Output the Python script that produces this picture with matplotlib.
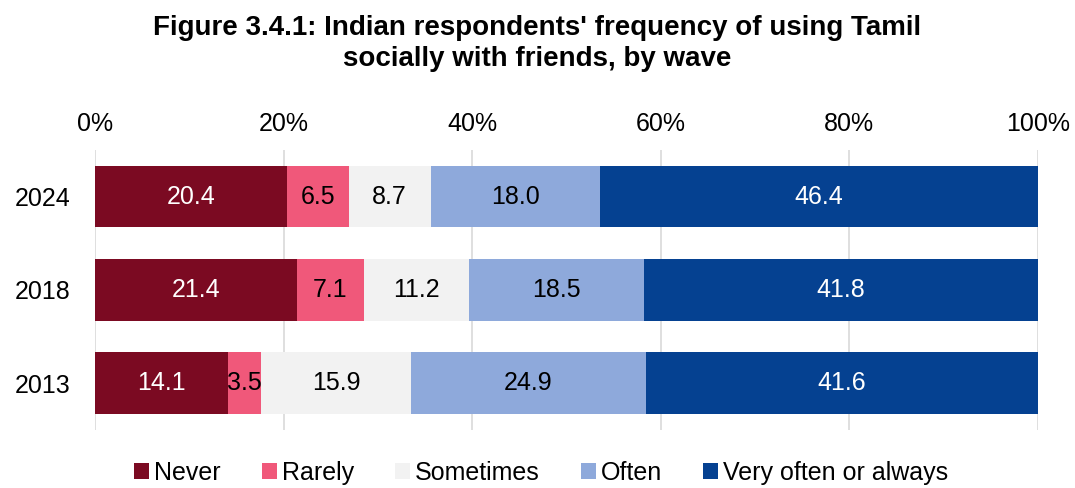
import matplotlib
matplotlib.use("Agg")
import matplotlib.pyplot as plt
import numpy as np

plt.rcParams['font.family'] = ['Liberation Sans', 'DejaVu Sans']

years = ["2024", "2018", "2013"]
categories = ["Never", "Rarely", "Sometimes", "Often", "Very often or always"]
never = [20.4, 21.4, 14.1]
rarely = [6.5, 7.1, 3.5]
sometimes = [8.7, 11.2, 15.9]
often = [18.0, 18.5, 24.9]
very_often = [46.4, 41.8, 41.6]
colors = ["#7B0A22", "#F0587A", "#F2F2F2", "#8EA9DB", "#054191"]
label_colors = ["white", "black", "black", "black", "white"]

series = [never, rarely, sometimes, often, very_often]

fig = plt.figure(figsize=(10.75, 4.88), dpi=100)
ax = fig.add_axes([0.0884, 0.119, 0.8772, 0.574])

y = np.arange(len(years))
left = np.zeros(len(years))
for vals, name, c, lc in zip(series, categories, colors, label_colors):
    vals = np.array(vals)
    ax.barh(y, vals, left=left, color=c, height=0.66, label=name, zorder=3)
    for yi, v, l in zip(y, vals, left):
        ax.text(l + v / 2, yi, f"{v:.1f}", ha="center", va="center",
                color=lc, fontsize=18, zorder=4)
    left += vals

ax.set_xlim(0, 100)
ax.set_ylim(2.5, -0.5)
ax.set_yticks(y)
ax.set_yticklabels(years, fontsize=18)
ax.set_xticks([0, 20, 40, 60, 80, 100])
ax.set_xticklabels([f"{t}%" for t in [0, 20, 40, 60, 80, 100]], fontsize=18)
ax.xaxis.tick_top()
ax.tick_params(axis="both", length=0, pad=10)
ax.tick_params(axis="y", pad=18)
ax.grid(axis="x", color="#D9D9D9", linewidth=1.2, zorder=0)
for s in ax.spines.values():
    s.set_visible(False)

fig.suptitle("Figure 3.4.1: Indian respondents' frequency of using Tamil\nsocially with friends, by wave",
             fontsize=20, fontweight="bold", y=0.97, x=0.5, linespacing=1.25)

ax.legend(loc="upper center", bbox_to_anchor=(0.473, -0.03), ncol=5, frameon=False,
          fontsize=18, handlelength=0.6, handleheight=0.6, handletextpad=0.2,
          columnspacing=1.65)

fig.savefig("out.png", dpi=100)
